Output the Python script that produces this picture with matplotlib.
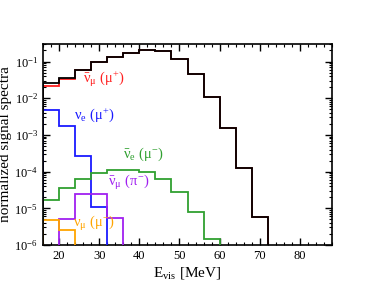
import numpy as np
import matplotlib
matplotlib.use("Agg")
import matplotlib.pyplot as plt
from matplotlib.ticker import MultipleLocator, LogLocator, NullFormatter

plt.rcParams['font.family'] = ['Liberation Serif', 'DejaVu Serif']
plt.rcParams['mathtext.fontset'] = 'custom'
plt.rcParams['mathtext.rm'] = 'Liberation Serif'
plt.rcParams['mathtext.it'] = 'Liberation Serif'
plt.rcParams['mathtext.bf'] = 'Liberation Serif:bold'
plt.rcParams['mathtext.sf'] = 'Liberation Serif'
plt.rcParams['mathtext.cal'] = 'Liberation Serif'
plt.rcParams['mathtext.tt'] = 'Liberation Serif'

# bin edges in MeV (4 MeV bins)
edges = [16, 20, 24, 28, 32, 36, 40, 44, 48, 52, 56, 60, 64, 68, 72]

total = [0.026, 0.036, 0.060, 0.096, 0.13, 0.17, 0.20, 0.19, 0.115, 0.046, 0.011, 0.0015, 1.26e-4, 5.8e-6]
numubar_mup = [0.021, 0.034, 0.059, 0.095, 0.13, 0.17, 0.20, 0.19, 0.115, 0.046, 0.011, 0.0015, 1.26e-4, 5.8e-6]

nue_edges = [16, 20, 24, 28, 32]
nue_mup = [0.0049, 0.0018, 2.7e-4, 1.1e-5]

nuebar_edges = [16, 20, 24, 28, 32, 36, 40, 44, 48, 52, 56, 60]
nuebar_mum = [1.66e-5, 3.6e-5, 6.4e-5, 8.9e-5, 1.1e-4, 1.12e-4, 9.5e-5, 6.4e-5, 2.7e-5, 8e-6, 1.5e-6]

numubar_pi_edges = [20, 24, 28, 32, 36]
numubar_pim = [5e-6, 2.5e-5, 2.5e-5, 5.5e-6]

numu_edges = [16, 20, 24]
numu_mum = [4.7e-6, 2.5e-6]

labels = [r'$\bar{\nu}_{\mu}\ (\mu^{+})$',
          r'$\nu_{e}\ (\mu^{+})$',
          r'$\bar{\nu}_{e}\ (\mu^{-})$',
          r'$\bar{\nu}_{\mu}\ (\pi^{-})$',
          r'$\nu_{\mu}\ (\mu^{-})$']

YMIN = 1e-6

fig = plt.figure(figsize=(3.74, 2.89), dpi=100)
ax = fig.add_axes([43/374, 1 - 245/289, (332-43)/374, (245-44)/289])


def step(e, v, color, z):
    xs = np.array(e, dtype=float)
    ys = np.concatenate([[YMIN * 0.5], v, [YMIN * 0.5]])
    xx = np.repeat(xs, 2)
    yy = np.repeat(ys, 2)[1:-1]
    ax.plot(xx, yy, color=color, lw=1.3, zorder=z, solid_joinstyle='miter')


c_red, c_blue, c_green, c_purple, c_orange = '#ff2020', '#1a1aff', '#30a030', '#a020f0', '#ffa500'

step(edges, numubar_mup, c_red, 2)
step(nue_edges, nue_mup, c_blue, 3)
step(nuebar_edges, nuebar_mum, c_green, 3)
step(numubar_pi_edges, numubar_pim, c_purple, 3)
step(numu_edges, numu_mum, c_orange, 3)
step(edges, total, '#000000', 4)

ax.set_yscale('log')
ax.set_xlim(16, 88)
ax.set_ylim(1e-6, 0.3)

ax.xaxis.set_major_locator(MultipleLocator(10))
ax.xaxis.set_minor_locator(MultipleLocator(2))
ax.yaxis.set_major_locator(LogLocator(base=10, numticks=20))
ax.yaxis.set_minor_locator(LogLocator(base=10, subs=np.arange(2, 10), numticks=20))
ax.yaxis.set_minor_formatter(NullFormatter())

ax.tick_params(which='both', direction='in', top=True, right=True, labelsize=9)
ax.tick_params(which='major', length=5, width=1.0)
ax.tick_params(which='minor', length=2.5, width=0.8)
for s in ax.spines.values():
    s.set_linewidth(1.2)

ax.set_xticks([20, 30, 40, 50, 60, 70, 80])
ax.set_xticklabels(['20', '30', '40', '50', '60', '70', '80'])

ax.set_xlabel(r'E$_{\rm vis}$ [MeV]', fontsize=11, labelpad=2)
ax.set_ylabel('normalized signal spectra', fontsize=11, labelpad=2)

fs = 10.5
ax.text(26.0, 0.026, labels[0], color=c_red, fontsize=fs, va='baseline', ha='left')
ax.text(23.7, 0.00276, labels[1], color=c_blue, fontsize=fs, va='baseline', ha='left')
ax.text(35.9, 2.4e-4, labels[2], color=c_green, fontsize=fs, va='baseline', ha='left')
ax.text(32.1, 4.0e-5, labels[3], color=c_purple, fontsize=fs, va='baseline', ha='left')
ax.text(23.4, 3.1e-6, labels[4], color=c_orange, fontsize=fs, va='baseline', ha='left')

fig.savefig('out.png', dpi=100)
